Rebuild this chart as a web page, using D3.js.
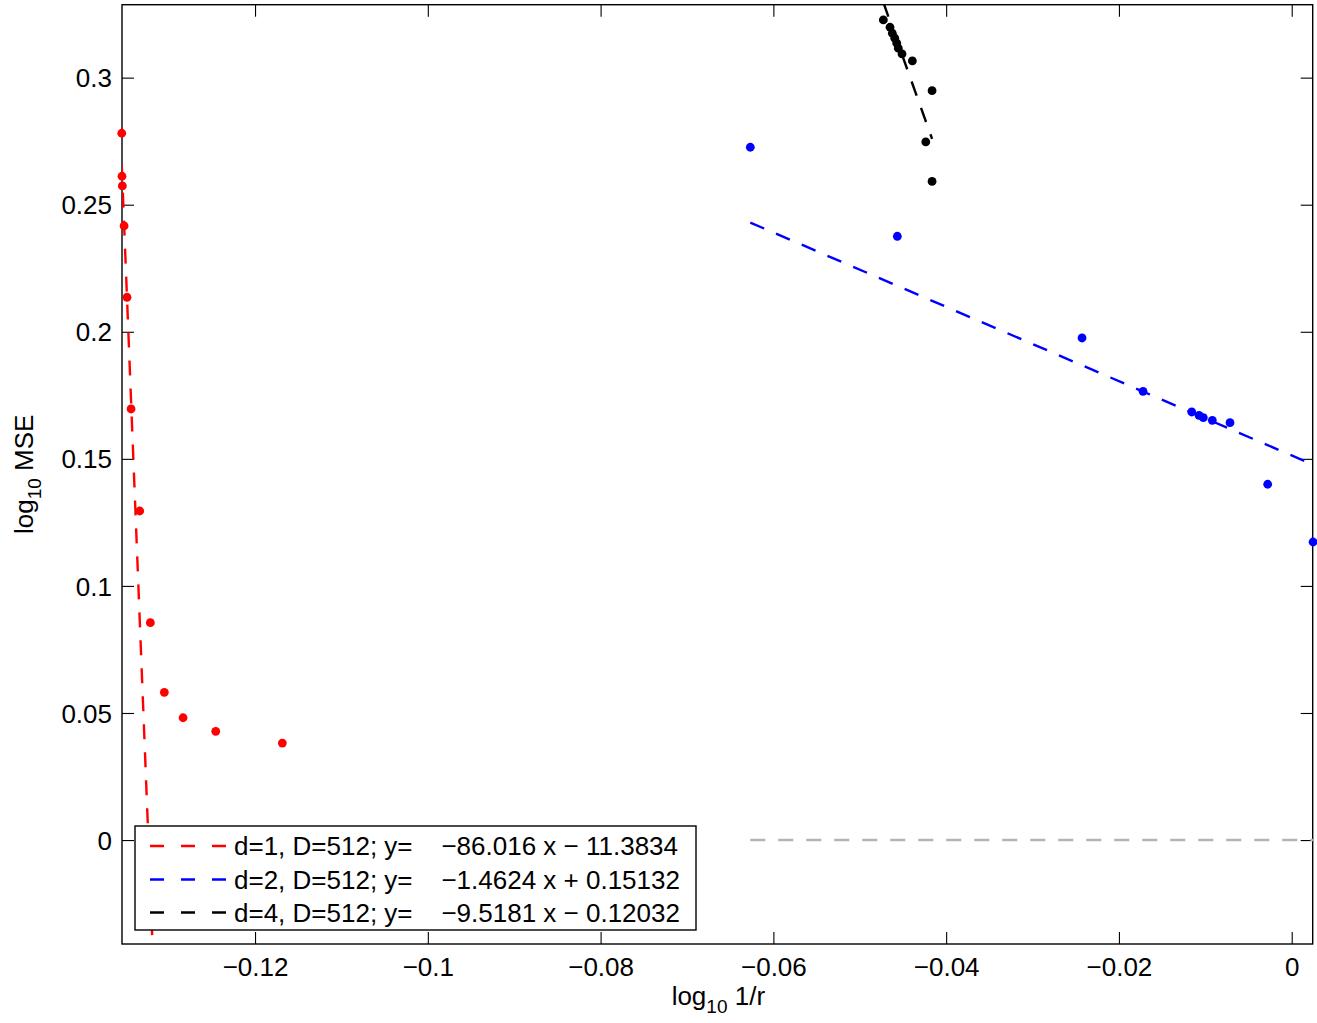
<!DOCTYPE html>
<html>
<head>
<meta charset="utf-8">
<script src="https://cdn.jsdelivr.net/npm/d3@7"></script>
<style>
  body { margin: 0; background: #fff; }
  svg { display: block; }
  text { font-family: "Liberation Sans", Arial, Helvetica, sans-serif; fill: #000; }
</style>
</head>
<body>
<svg id="chart" width="1317" height="1023"></svg>
<script>
// Measured points: log10(1/r) vs log10(MSE), one series per intrinsic dimension d
const redX = [-0.13543, -0.13540, -0.13536, -0.13516, -0.13482, -0.13435, -0.13335, -0.13212, -0.13050, -0.12833, -0.12455, -0.11684];
const redY = [0.27812, 0.26120, 0.25738, 0.24164, 0.21358, 0.16962, 0.12948, 0.08552, 0.05813, 0.04813, 0.04278, 0.03817];

const blueX = [-0.06267, -0.04565, -0.02427, -0.01721, -0.01157, -0.01073, -0.01023, -0.00919, -0.00714, -0.00278, 0.00247];
const blueY = [0.27261, 0.23758, 0.19756, 0.17658, 0.16844, 0.16714, 0.16619, 0.16517, 0.16423, 0.14000, 0.11728];

const blackX = [-0.04727, -0.04650, -0.04623, -0.04595, -0.04572, -0.04554, -0.04511, -0.04391, -0.04163, -0.04236, -0.04163];
const blackY = [0.32271, 0.31983, 0.31747, 0.31551, 0.31354, 0.31157, 0.30933, 0.30657, 0.29488, 0.27469, 0.25915];

// Least-squares fits (slope, intercept) shown in the legend
const fitSlopes = [-86.016, -1.4624, -9.5181];
const fitIntercepts = [-11.3834, 0.15132, -0.12032];
const fitLabels = [
  "d=1, D=512; y=    \u221286.016 x \u2212 11.3834",
  "d=2, D=512; y=    \u22121.4624 x + 0.15132",
  "d=4, D=512; y=    \u22129.5181 x \u2212 0.12032"
];
const seriesColors = ["#ff0000", "#0000ff", "#000000"];

// Zero reference level spanning the d=2 range
const zeroLineX = [-0.06267, 0.00247];
const zeroLineY = [0, 0];

const xTicks = [-0.12, -0.1, -0.08, -0.06, -0.04, -0.02, 0];
const xTickLabels = ["\u22120.12", "\u22120.1", "\u22120.08", "\u22120.06", "\u22120.04", "\u22120.02", "0"];
const yTicks = [0, 0.05, 0.1, 0.15, 0.2, 0.25, 0.3];
const yTickLabels = ["0", "0.05", "0.1", "0.15", "0.2", "0.25", "0.3"];

const xDomain = [-0.1354, 0.00243];
const yDomain = [-0.0409, 0.3287];

// ---- layout ----
const plot = { left: 122, top: 4.7, right: 1312.7, bottom: 944 };
const svg = d3.select("#chart");
const x = d3.scaleLinear().domain(xDomain).range([plot.left, plot.right]);
const y = d3.scaleLinear().domain(yDomain).range([plot.bottom, plot.top]);
const FS = 26;
const TICK = 12;

// axes box and inward ticks on all four sides
const axes = svg.append("g");
axes.append("rect")
  .attr("x", plot.left).attr("y", plot.top)
  .attr("width", plot.right - plot.left).attr("height", plot.bottom - plot.top)
  .attr("fill", "none").attr("stroke", "#000").attr("stroke-width", 1.4);

const bottomAxis = d3.axisBottom(x).tickValues(xTicks).tickSize(-TICK).tickPadding(14)
  .tickFormat((d, i) => xTickLabels[i]);
const topAxis = d3.axisTop(x).tickValues(xTicks).tickSize(-TICK).tickFormat("");
const leftAxis = d3.axisLeft(y).tickValues(yTicks).tickSize(-TICK).tickPadding(10)
  .tickFormat((d, i) => yTickLabels[i]);
const rightAxis = d3.axisRight(y).tickValues(yTicks).tickSize(-TICK).tickFormat("");

function styleAxis(g) {
  g.select(".domain").remove();
  g.selectAll(".tick line").attr("stroke", "#000").attr("stroke-width", 1.1);
  g.selectAll(".tick text").attr("font-size", FS).attr("font-family", '"Liberation Sans", Arial, sans-serif').attr("fill", "#000");
}
axes.append("g").attr("transform", `translate(0,${plot.bottom})`).call(bottomAxis).call(styleAxis);
axes.append("g").attr("transform", `translate(0,${plot.top})`).call(topAxis).call(styleAxis);
axes.append("g").attr("transform", `translate(${plot.left},0)`).call(leftAxis).call(styleAxis)
  .selectAll(".tick text").attr("dy", "0.35em");
axes.append("g").attr("transform", `translate(${plot.right},0)`).call(rightAxis).call(styleAxis);

// axis titles with subscripts
const xTitle = svg.append("text").attr("x", (plot.left + plot.right) / 2 + 1).attr("y", 1005)
  .attr("text-anchor", "middle").attr("font-size", FS);
xTitle.append("tspan").text("log");
xTitle.append("tspan").attr("font-size", 19).attr("dy", 8).text("10");
xTitle.append("tspan").attr("dy", -8).text(" 1/r");

const yTitle = svg.append("text")
  .attr("transform", `translate(33,${(plot.top + plot.bottom) / 2}) rotate(-90)`)
  .attr("text-anchor", "middle").attr("font-size", FS);
yTitle.append("tspan").text("log");
yTitle.append("tspan").attr("font-size", 19).attr("dy", 8).text("10");
yTitle.append("tspan").attr("dy", -8).text(" MSE");

// clip region for fitted lines
svg.append("defs").append("clipPath").attr("id", "plotClip")
  .append("rect").attr("x", plot.left).attr("y", plot.top)
  .attr("width", plot.right - plot.left).attr("height", plot.bottom - plot.top);

const DASH = "15,13";
const LW = 2.4;
const series = [
  { xs: redX, ys: redY },
  { xs: blueX, ys: blueY },
  { xs: blackX, ys: blackY }
];
const line = d3.line().x(d => x(d[0])).y(d => y(d[1]));
const dataLayer = svg.append("g");

series.forEach((s, i) => {
  const pts = s.xs.map((v, j) => [v, s.ys[j]]);
  dataLayer.append("g").selectAll("circle").data(pts).join("circle")
    .attr("cx", d => x(d[0])).attr("cy", d => y(d[1])).attr("r", 4.4)
    .attr("fill", seriesColors[i]);
  const [x0, x1] = d3.extent(s.xs);
  const fit = [x0, x1].map(v => [v, fitSlopes[i] * v + fitIntercepts[i]]);
  dataLayer.append("path").attr("d", line(fit))
    .attr("clip-path", "url(#plotClip)")
    .attr("fill", "none").attr("stroke", seriesColors[i])
    .attr("stroke-width", LW).attr("stroke-dasharray", DASH);
});

// zero reference
dataLayer.append("path")
  .attr("d", line(zeroLineX.map((v, j) => [v, zeroLineY[j]])))
  .attr("fill", "none").attr("stroke", "#b3b3b3").attr("stroke-width", LW)
  .attr("stroke-dasharray", DASH);

// legend
const legend = svg.append("g");
const lg = { x: 135, y: 826, w: 561, h: 104 };
legend.append("rect").attr("x", lg.x).attr("y", lg.y).attr("width", lg.w).attr("height", lg.h)
  .attr("fill", "#fff").attr("stroke", "#000").attr("stroke-width", 1.4);
const rowY = [846, 879.5, 912.5];
fitLabels.forEach((lab, i) => {
  legend.append("line").attr("x1", 150).attr("x2", 226).attr("y1", rowY[i]).attr("y2", rowY[i])
    .attr("stroke", seriesColors[i]).attr("stroke-width", LW).attr("stroke-dasharray", "14,17");
  legend.append("text").attr("x", 234).attr("y", rowY[i]).attr("dy", "0.35em")
    .attr("font-size", FS).style("white-space", "pre").text(lab);
});
</script>
</body>
</html>
